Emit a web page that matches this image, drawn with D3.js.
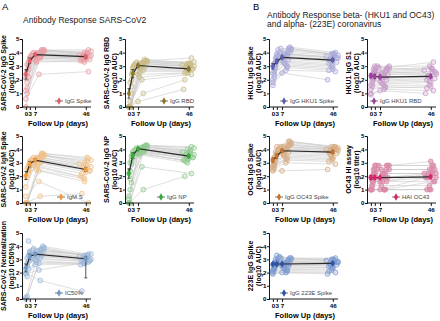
<!DOCTYPE html>
<html>
<head>
<meta charset="utf-8">
<script src="https://cdn.jsdelivr.net/npm/d3@7"></script>
<style>
  body { margin: 0; background: #fff; }
  svg { display: block; font-family: "Liberation Sans", Arial, sans-serif; }
</style>
</head>
<body>
<svg width="440" height="321"></svg>
<script>
// sampling days for each subject: [early, peak, late]
const subjectDays = [
  [0, 9, 44], [1, 11, 46], [2, 12, 47], [0, 7, 42], [3, 13, 48], [1, 8, 45],
  [2, 10, 50], [4, 14, 46], [0, 11, 43], [3, 9, 47], [1, 12, 49], [2, 8, 44],
  [5, 14, 45], [0, 10, 48], [3, 11, 41], [1, 9, 46], [4, 13, 50], [2, 7, 43],
  [6, 12, 47], [0, 10, 45], [1, 11, 44], [3, 8, 49]
];
const dayTicks = [0, 3, 7, 46];
const valueTicks = [0, 1, 2, 3, 4, 5];

// per subject values [early, peak, late]
const iggSpike = [[2.4,3.8,3.7],[1.0,3.6,3.5],[3.3,4.1,4.0],[0,3.5,3.4],[3.6,4.2,4.2],[1.8,3.4,3.3],[3.0,3.9,3.8],[3.7,4.1,3.9],[2.1,3.7,3.6],[3.5,4.0,3.9],[1.4,3.8,3.7],[2.8,3.3,3.4],[3.9,4.2,4.0],[0.6,2.4,2.6],[3.4,4.0,3.8],[2.6,3.9,3.7],[3.8,4.1,4.1],[2.2,3.6,3.5],[4.0,4.2,3.9],[1.2,3.7,3.6],[3.1,3.9,3.8],[3.6,3.8,3.5]];
const iggRbd = [[0,3.0,2.9],[0,2.7,2.7],[2.4,3.3,3.1],[0,0.4,1.3],[2.9,3.4,3.6],[0,2.2,2.5],[1.5,3.1,3.0],[3.0,3.3,3.2],[0,1.0,2.0],[2.6,3.2,3.0],[0.4,2.9,2.8],[2.0,2.6,2.6],[3.2,3.4,3.2],[0,2.0,2.4],[2.8,3.3,3.1],[0,2.8,2.7],[3.1,3.4,3.3],[1.0,2.4,2.5],[3.3,3.5,3.2],[0,3.0,2.9],[1.8,3.2,3.0],[2.5,2.9,2.8]];
const igmS = [[2.0,3.3,2.6],[0,3.0,2.3],[2.8,3.6,3.1],[1.2,2.8,2.0],[3.1,3.7,3.3],[0,2.5,1.8],[2.5,3.2,2.7],[3.2,3.5,2.9],[0,0.5,0.7],[2.9,3.4,2.8],[0,3.1,2.4],[2.2,2.7,1.9],[3.3,3.6,3.0],[0.5,1.6,0],[2.7,3.4,2.9],[1.9,3.0,2.5],[3.0,3.5,3.2],[2.4,2.9,2.2],[3.4,3.7,3.4],[0,2.4,1.6],[2.6,3.3,2.6],[3.0,3.1,2.4]];
const iggNp = [[2.2,4.0,3.5],[0,3.8,3.3],[3.5,4.2,3.9],[0.5,3.7,3.2],[3.8,4.3,4.2],[1.0,3.6,3.0],[3.2,4.1,3.6],[3.9,4.2,3.8],[0,1.0,2.0],[3.6,4.1,3.7],[1.8,3.9,3.4],[2.9,3.8,3.1],[4.0,4.3,4.0],[0,2.7,2.2],[3.4,4.2,3.8],[2.4,4.0,3.5],[3.7,4.3,4.1],[1.5,3.7,3.2],[4.1,4.2,3.9],[0.3,3.9,3.3],[3.0,4.0,3.6],[3.6,3.8,3.4]];
const ic50 = [[2.3,3.4,3.1],[0.2,3.1,2.8],[3.3,3.7,3.3],[0.1,2.6,2.6],[3.6,4.0,3.4],[1.7,2.9,2.7],[4.4,3.5,3.0],[3.0,3.8,3.2],[2.0,1.4,0.6],[3.5,3.6,3.1],[2.7,3.3,2.9],[2.3,2.8,2.7],[3.7,3.9,3.3],[1.9,2.2,2.8],[3.4,3.7,3.2],[2.5,3.2,3.0],[3.2,3.6,3.4],[2.9,3.0,2.9],[3.8,3.8,3.3],[0,2.7,2.7],[3.1,3.5,3.0],[3.5,3.3,2.9]];
const hku1Spike = [[3.0,3.7,3.5],[2.2,3.0,2.8],[3.6,4.1,3.9],[1.6,2.5,2.0],[3.9,4.4,4.0],[2.6,3.3,3.1],[3.3,3.8,3.6],[4.2,4.2,3.9],[2.0,2.9,2.7],[3.5,3.9,3.7],[2.8,3.5,3.3],[3.1,3.6,3.4],[4.0,4.3,3.9],[1.8,2.7,2.6],[3.4,3.9,3.7],[2.4,3.2,3.0],[3.8,4.0,3.8],[2.9,3.4,3.2],[4.3,4.3,3.9],[2.5,3.1,2.9],[3.2,3.7,3.5],[3.7,3.9,3.6]];
const hku1S1 = [[2.3,2.2,2.3],[1.5,1.4,1.5],[2.8,2.7,2.8],[1.0,1.2,1.0],[3.0,2.9,3.3],[1.9,1.8,1.9],[2.5,2.4,2.4],[2.9,2.8,2.9],[1.3,1.5,1.4],[2.6,2.5,2.6],[2.1,2.0,2.1],[2.2,2.1,2.2],[3.0,3.0,3.0],[0.9,1.3,1.2],[2.7,2.6,2.7],[1.7,1.7,1.8],[2.4,2.4,2.5],[2.0,1.9,2.0],[2.9,2.8,2.8],[1.6,1.6,1.6],[2.3,2.2,2.3],[2.6,2.5,2.6]];
const oc43Spike = [[3.2,3.9,3.8],[2.6,3.4,3.3],[3.8,4.3,4.1],[2.4,2.4,2.5],[4.2,4.6,4.2],[2.9,3.6,3.5],[3.5,4.0,3.9],[4.0,4.4,4.1],[2.7,3.2,3.1],[3.6,4.1,4.0],[3.0,3.8,3.7],[3.3,3.7,3.6],[4.1,4.5,4.2],[2.5,3.0,2.9],[3.7,4.2,4.0],[2.8,3.5,3.4],[3.9,4.3,4.1],[3.1,3.9,3.8],[4.2,4.6,4.2],[2.8,3.3,3.2],[3.4,4.0,3.9],[3.7,4.2,4.0]];
const haiOc43 = [[1.9,1.9,1.9],[1.0,1.0,1.0],[2.5,2.5,2.5],[1.0,1.0,1.9],[2.8,2.8,2.8],[1.3,1.3,1.3],[2.2,2.2,2.2],[2.8,2.8,3.1],[1.0,1.0,1.0],[2.2,2.2,2.2],[1.6,1.6,1.6],[1.9,1.9,1.9],[2.5,2.5,2.5],[1.0,1.0,1.6],[2.2,2.2,2.2],[1.3,1.6,2.2],[1.9,1.9,1.9],[1.6,1.6,1.9],[2.8,2.8,2.8],[1.0,1.0,1.0],[1.9,1.9,2.2],[2.5,2.5,2.5]];
const e229Spike = [[2.6,2.6,2.7],[2.2,2.2,2.3],[3.0,2.9,2.9],[1.9,2.0,1.9],[3.3,3.1,3.1],[2.4,2.4,2.4],[2.8,2.7,2.8],[3.1,3.0,3.0],[2.1,2.1,2.1],[2.7,2.7,2.8],[2.5,2.5,2.6],[2.6,2.6,2.6],[3.2,3.1,3.0],[2.0,2.0,2.0],[2.9,2.8,2.9],[2.3,2.3,2.4],[2.7,2.7,2.8],[2.5,2.5,2.5],[3.1,3.0,3.0],[2.2,2.2,2.2],[2.6,2.6,2.7],[2.8,2.8,2.8]];

// group means: [day, mean, error down, error up]
const iggSpikeMean = [[0,2.4,0.35,0.35],[3,3.4,0.2,0.2],[7,3.85,0.08,0.08],[46,3.7,0.1,0.1]];
const iggRbdMean = [[0,1.0,0.35,0.35],[3,2.45,0.3,0.3],[7,3.05,0.1,0.1],[46,2.8,0.12,0.12]];
const igmSMean = [[0,2.05,0.3,0.3],[3,2.9,0.2,0.2],[7,3.2,0.1,0.1],[46,2.5,0.15,0.15]];
const iggNpMean = [[0,2.2,0.35,0.35],[3,3.55,0.2,0.2],[7,4.05,0.08,0.08],[46,3.5,0.1,0.1]];
const ic50Mean = [[0,2.35,0.3,0.3],[3,3.2,0.2,0.2],[7,3.4,0.1,0.1],[46,3.05,1.45,0.15]];
const hku1SpikeMean = [[0,3.0,0.2,0.2],[3,3.35,0.15,0.15],[7,3.65,0.1,0.1],[46,3.45,0.1,0.1]];
const hku1S1Mean = [[0,2.3,0.15,0.15],[3,2.25,0.15,0.15],[7,2.2,0.1,0.1],[46,2.25,0.1,0.1]];
const oc43SpikeMean = [[0,3.2,0.15,0.15],[3,3.5,0.15,0.15],[7,3.9,0.1,0.1],[46,3.8,0.1,0.1]];
const haiOc43Mean = [[0,1.9,0.15,0.15],[3,1.9,0.12,0.12],[7,1.9,0.1,0.1],[46,1.95,0.1,0.1]];
const e229SpikeMean = [[0,2.65,0.1,0.1],[3,2.65,0.1,0.1],[7,2.65,0.08,0.08],[46,2.7,0.08,0.08]];

// panel layout and styling
const panels = [
  { values: iggSpike, means: iggSpikeMean, label: ['SARS-CoV-2 IgG Spike', '(log10 AUC)'], legend: 'IgG Spike', x0: 22, row: 0, color: '#e8a0a6', dark: '#e35d6a', lx: 33 },
  { values: iggRbd, means: iggRbdMean, label: ['SARS-CoV-2 IgG RBD', '(log10 AUC)'], legend: 'IgG RBD', x0: 125, row: 0, color: '#c9bb86', dark: '#8b7a2b', lx: 35 },
  { values: igmS, means: igmSMean, label: ['SARS-CoV-2 IgM Spike', '(log10 AUC)'], legend: 'IgM S', x0: 22, row: 1, color: '#f0c28c', dark: '#f29a3a', lx: 35 },
  { values: iggNp, means: iggNpMean, label: ['SARS-CoV-2 IgG NP', '(log10 AUC)'], legend: 'IgG NP', x0: 125, row: 1, color: '#8fca8f', dark: '#3aa83a', lx: 32 },
  { values: ic50, means: ic50Mean, label: ['SARS-CoV-2 Neutralization', '(log10 IC50%)'], legend: 'IC50%', x0: 22, row: 2, color: '#9db8d8', dark: '#6f98c8', lx: 33 },
  { values: hku1Spike, means: hku1SpikeMean, label: ['HKU1 IgG Spike', '(log10 AUC)'], legend: 'IgG HKU1 Spike', x0: 269, row: 0, color: '#a9a8d8', dark: '#5a5fb0', lx: 11 },
  { values: hku1S1, means: hku1S1Mean, label: ['HKU1 IgG S1', '(log10 AUC)'], legend: 'IgG HKU1 RBD', x0: 367, row: 0, color: '#c99ac9', dark: '#9c3fa0', lx: 3 },
  { values: oc43Spike, means: oc43SpikeMean, label: ['OC43 IgG Spike', '(log10 AUC)'], legend: 'IgG OC43 Spike', x0: 269, row: 1, color: '#d6ad84', dark: '#c8732d', lx: 6 },
  { values: haiOc43, means: haiOc43Mean, label: ['OC43 HI assay', '(log10 titer)'], legend: 'HAI OC43', x0: 367, row: 1, color: '#d88aa8', dark: '#e0206a', lx: 25, fillOpacity: 0.6 },
  { values: e229Spike, means: e229SpikeMean, label: ['223E IgG Spike', '(log10 AUC)'], legend: 'IgG 223E Spike', x0: 269, row: 2, color: '#7d9ad0', dark: '#2f55a8', lx: 11 }
];

const rowTop = [39, 136, 233];
const rowBottom = [107, 203, 299];

const svg = d3.select('svg');

// panel letters and titles
svg.append('text').attr('x', 2).attr('y', 9.5).attr('font-size', 9.5).text('A');
svg.append('text').attr('x', 253).attr('y', 9.5).attr('font-size', 9.5).text('B');
svg.append('text').attr('x', 23).attr('y', 23).attr('font-size', 8.5).attr('fill', '#222').text('Antibody Response SARS-CoV2');
svg.append('text').attr('x', 267).attr('y', 18).attr('font-size', 8.5).attr('fill', '#222').text('Antibody Response beta- (HKU1 and OC43)');
svg.append('text').attr('x', 267).attr('y', 27).attr('font-size', 8.5).attr('fill', '#222').text('and alpha- (223E) coronavirus');

const symbol = d3.symbol().type(d3.symbolDiamond).size(16);

panels.forEach((p) => {
  const x = d3.scaleLinear().domain([-3, 50]).range([p.x0, p.x0 + 69]);
  const y = d3.scaleLinear().domain([0, 5]).range([rowBottom[p.row], rowTop[p.row]]);
  const g = svg.append('g');

  // each subject's trajectory
  p.values.forEach((v, i) => {
    const pts = subjectDays[i].map((d, k) => [x(d), y(v[k])]);
    g.append('path')
      .attr('d', d3.line()(pts))
      .attr('fill', 'none')
      .attr('stroke', '#c9c9c9')
      .attr('stroke-width', 0.6);
  });

  p.values.forEach((v, i) => {
    subjectDays[i].forEach((d, k) => {
      g.append('circle')
        .attr('cx', x(d))
        .attr('cy', y(v[k]))
        .attr('r', 2.4)
        .attr('fill', p.color)
        .attr('fill-opacity', p.fillOpacity || 0.25)
        .attr('stroke', p.color)
        .attr('stroke-width', 0.8);
    });
  });

  // group mean with error bars
  g.append('path')
    .attr('d', d3.line().x((d) => x(d[0])).y((d) => y(d[1]))(p.means))
    .attr('fill', 'none')
    .attr('stroke', '#2a2a2a')
    .attr('stroke-width', 1.2);

  p.means.forEach((m) => {
    const cx = x(m[0]);
    g.append('line')
      .attr('x1', cx).attr('x2', cx)
      .attr('y1', y(m[1] - m[2])).attr('y2', y(m[1] + m[3]))
      .attr('stroke', '#2a2a2a').attr('stroke-width', 0.8);
    [m[1] - m[2], m[1] + m[3]].forEach((e) => {
      g.append('line')
        .attr('x1', cx - 1.5).attr('x2', cx + 1.5)
        .attr('y1', y(e)).attr('y2', y(e))
        .attr('stroke', '#2a2a2a').attr('stroke-width', 0.8);
    });
    g.append('path')
      .attr('d', symbol)
      .attr('transform', `translate(${cx},${y(m[1])})`)
      .attr('fill', p.dark);
  });

  // axes
  const yAxis = g.append('g')
    .attr('transform', `translate(${p.x0},0)`)
    .call(d3.axisLeft(y).tickValues(valueTicks).tickSize(2).tickPadding(0.5).tickFormat(d3.format('d')));
  const xAxis = g.append('g')
    .attr('transform', `translate(0,${rowBottom[p.row]})`)
    .call(d3.axisBottom(x).tickValues(dayTicks).tickSize(3).tickPadding(1.5).tickSizeOuter(0));
  [yAxis, xAxis].forEach((a) => {
    a.select('.domain').attr('stroke', '#000').attr('stroke-width', 0.9);
    a.selectAll('.tick line').attr('stroke', '#000').attr('stroke-width', 0.9);
    a.selectAll('.tick text')
      .attr('font-family', '"Liberation Sans", Arial, sans-serif')
      .attr('font-size', 6.2)
      .attr('font-weight', 'bold')
      .attr('fill', '#000');
  });
  xAxis.select('.domain').attr('d', `M${p.x0},0H${p.x0 + 69}`);

  g.append('text')
    .attr('x', p.x0 + 36)
    .attr('y', rowBottom[p.row] + 18.5)
    .attr('text-anchor', 'middle')
    .attr('font-size', 7.5)
    .attr('font-weight', 'bold')
    .text('Follow Up (days)');

  // y label, two lines
  const cy = (rowTop[p.row] + rowBottom[p.row]) / 2;
  p.label.forEach((t, k) => {
    g.append('text')
      .attr('transform', `translate(${p.x0 - 16.5 + k * 8},${cy}) rotate(-90)`)
      .attr('text-anchor', 'middle')
      .attr('font-size', 7)
      .attr('font-weight', 'bold')
      .text(t);
  });

  // legend
  const ly = rowBottom[p.row] - 6;
  const lx = p.x0 + p.lx;
  g.append('line')
    .attr('x1', lx).attr('x2', lx + 8)
    .attr('y1', ly).attr('y2', ly)
    .attr('stroke', '#555').attr('stroke-width', 0.8);
  g.append('path')
    .attr('d', symbol)
    .attr('transform', `translate(${lx + 4},${ly})`)
    .attr('fill', p.dark);
  g.append('text')
    .attr('x', lx + 10)
    .attr('y', ly + 2.2)
    .attr('font-size', 6)
    .attr('fill', '#444')
    .text(p.legend);
});
</script>
</body>
</html>
